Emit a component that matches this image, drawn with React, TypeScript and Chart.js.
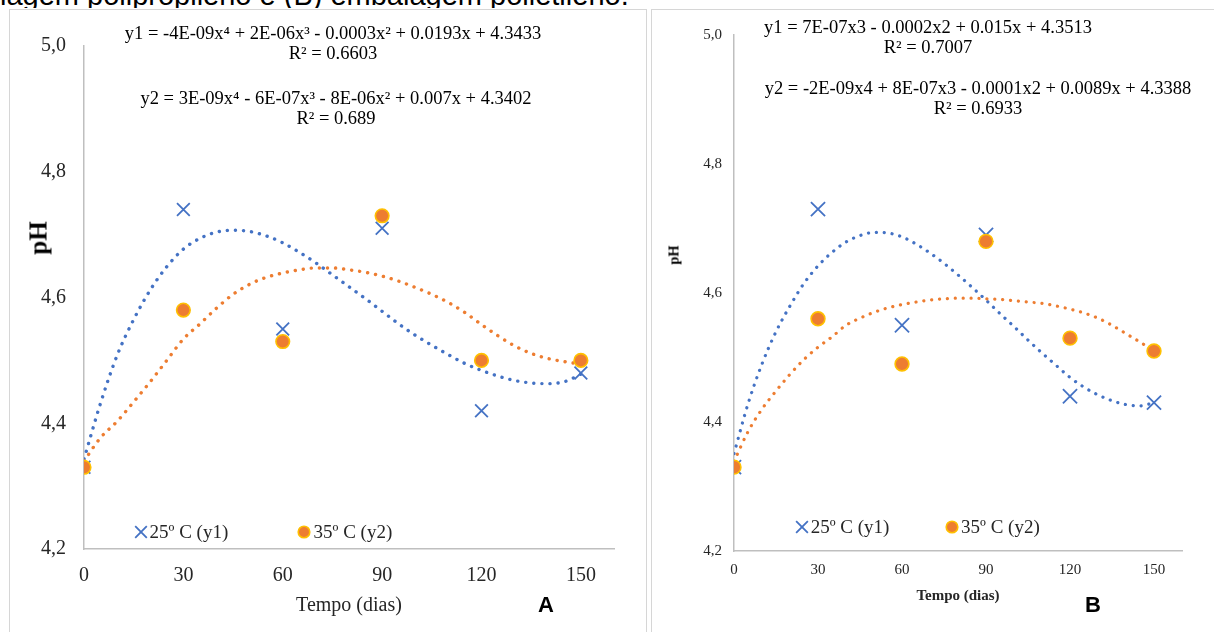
import React, { useEffect, useRef } from 'react';
import { Chart, registerables } from 'chart.js';
import { drawPoint } from 'chart.js/helpers';

Chart.register(...registerables);

// ---------- data ----------
const days = [0, 30, 60, 90, 120, 150];
const seriesLabels = ['25º C (y1)', '35º C (y2)'];

// Panel A (polipropileno)
const phA25 = [4.33, 4.74, 4.55, 4.71, 4.42, 4.48];
const phA35 = [4.33, 4.58, 4.53, 4.73, 4.5, 4.5];
// Panel B (polietileno)
const phB25 = [4.33, 4.73, 4.55, 4.69, 4.44, 4.43];
const phB35 = [4.33, 4.56, 4.49, 4.68, 4.53, 4.51];

// trendline curves, every 5 days
const trendDays = [0, 5, 10, 15, 20, 25, 30, 35, 40, 45, 50, 55, 60, 65, 70, 75, 80, 85, 90, 95, 100, 105, 110, 115, 120, 125, 130, 135, 140, 145, 150];
const trendA25 = [4.343, 4.432, 4.508, 4.565, 4.612, 4.649, 4.677, 4.694, 4.704, 4.707, 4.705, 4.698, 4.687, 4.672, 4.655, 4.636, 4.617, 4.598, 4.578, 4.558, 4.54, 4.524, 4.509, 4.495, 4.484, 4.475, 4.468, 4.464, 4.463, 4.466, 4.478];
const trendA35 = [4.34, 4.377, 4.403, 4.434, 4.466, 4.5, 4.534, 4.558, 4.583, 4.605, 4.621, 4.632, 4.639, 4.644, 4.647, 4.647, 4.644, 4.64, 4.634, 4.626, 4.616, 4.605, 4.592, 4.576, 4.557, 4.539, 4.523, 4.511, 4.503, 4.498, 4.494];
const trendB25 = [4.351, 4.428, 4.49, 4.54, 4.58, 4.615, 4.642, 4.663, 4.679, 4.689, 4.694, 4.693, 4.687, 4.676, 4.662, 4.646, 4.628, 4.609, 4.589, 4.568, 4.548, 4.527, 4.507, 4.488, 4.469, 4.454, 4.442, 4.433, 4.427, 4.425, 4.43];
const trendB35 = [4.339, 4.385, 4.42, 4.448, 4.474, 4.497, 4.516, 4.532, 4.55, 4.561, 4.57, 4.577, 4.582, 4.586, 4.589, 4.591, 4.592, 4.592, 4.591, 4.59, 4.588, 4.586, 4.584, 4.58, 4.575, 4.569, 4.561, 4.55, 4.537, 4.524, 4.51];

const xTicks = [0, 30, 60, 90, 120, 150];
const yTicks = [4.2, 4.4, 4.6, 4.8, 5.0];

// ---------- styles ----------
const SERIF = "'Liberation Serif', 'Times New Roman', serif";
const SANS = "'Liberation Sans', Arial, sans-serif";
const BLUE = '#4472C4';
const ORANGE = '#ED7D31';
const GOLD = '#FFC000';
const AXIS = '#BFBFBF';
const TEXT = '#262626';

const insideLegend = {
  id: 'insideLegend',
  afterDatasetsDraw(chart: any, _args: any, opts: any) {
    if (!opts || !opts.items) return;
    const ctx = chart.ctx;
    const { left, bottom } = chart.chartArea;
    ctx.save();
    ctx.font = opts.font;
    ctx.textBaseline = 'middle';
    ctx.textAlign = 'left';
    opts.items.forEach((it: any) => {
      const ds = chart.data.datasets[it.dataset];
      const x = left + it.dx;
      const y = bottom - opts.dy;
      ctx.strokeStyle = ds.borderColor;
      ctx.fillStyle = ds.backgroundColor;
      ctx.lineWidth = ds.borderWidth;
      drawPoint(ctx, { pointStyle: ds.pointStyle, radius: it.radius, rotation: 0, borderWidth: ds.borderWidth } as any, x, y);
      ctx.fillStyle = opts.color;
      ctx.fillText(ds.label, x + it.gap, y + 1);
    });
    ctx.restore();
  },
};

function buildConfig(p: any): any {
  const pts = (xs: number[], ys: number[]) => xs.map((x, i) => ({ x, y: ys[i] }));
  const trend = (label: string, ys: number[], color: string) => ({
    label,
    data: pts(trendDays, ys),
    showLine: true,
    pointRadius: 0,
    pointHoverRadius: 0,
    borderColor: color,
    backgroundColor: color,
    borderWidth: p.trendW,
    borderDash: [0.1, p.trendGap],
    borderCapStyle: 'round',
    cubicInterpolationMode: 'monotone',
    fill: false,
  });
  return {
    type: 'scatter',
    data: {
      datasets: [
        {
          label: seriesLabels[1],
          data: pts(days, p.s35),
          pointStyle: 'circle',
          pointRadius: p.circleR,
          pointHoverRadius: p.circleR,
          backgroundColor: ORANGE,
          borderColor: GOLD,
          borderWidth: 1.6,
          showLine: false,
        },
        {
          label: seriesLabels[0],
          data: pts(days, p.s25),
          pointStyle: 'crossRot',
          pointRadius: p.crossR,
          pointHoverRadius: p.crossR,
          backgroundColor: BLUE,
          borderColor: BLUE,
          borderWidth: 1.8,
          showLine: false,
        },
        trend('trend 35', p.t35, ORANGE),
        trend('trend 25', p.t25, BLUE),
      ],
    },
    options: {
      responsive: false,
      animation: false,
      devicePixelRatio: 1,
      layout: { padding: p.padding },
      plugins: {
        legend: { display: false },
        tooltip: { enabled: false },
        insideLegend: {
          font: `${p.legendSize}px ${SERIF}`,
          color: TEXT,
          dy: p.legendDy,
          items: p.legendItems,
        },
      },
      scales: {
        x: {
          type: 'linear',
          min: 0,
          max: 160,
          afterBuildTicks: (s: any) => {
            s.ticks = xTicks.map((v) => ({ value: v }));
          },
          afterFit: (s: any) => {
            s.height = p.xHeight;
          },
          grid: { display: false, drawTicks: false },
          border: { display: true, color: AXIS, width: 1.5 },
          ticks: {
            padding: p.xPad,
            autoSkip: false,
            maxRotation: 0,
            color: TEXT,
            font: { family: SERIF, size: p.tickSize },
          },
          title: {
            display: true,
            text: 'Tempo (dias)',
            padding: 0,
            color: TEXT,
            font: { family: SERIF, size: p.titleSize, weight: p.titleBold ? 'bold' : 'normal' },
          },
        },
        y: {
          type: 'linear',
          min: 4.2,
          max: 5.0,
          afterBuildTicks: (s: any) => {
            s.ticks = yTicks.map((v) => ({ value: v }));
          },
          afterFit: (s: any) => {
            s.width = p.yWidth;
          },
          grid: { display: false, drawTicks: false },
          border: { display: true, color: AXIS, width: 1.5 },
          ticks: {
            padding: p.yPad,
            color: TEXT,
            font: { family: SERIF, size: p.tickSize },
            callback: (v: any) => Number(v).toFixed(1).replace('.', ','),
          },
        },
      },
    },
    plugins: [insideLegend],
  };
}

const abs = (s: React.CSSProperties): React.CSSProperties => ({ position: 'absolute', ...s });

export default function App() {
  const refA = useRef<HTMLCanvasElement>(null);
  const refB = useRef<HTMLCanvasElement>(null);

  useEffect(() => {
    const cA = new Chart(
      refA.current as HTMLCanvasElement,
      buildConfig({
        s25: phA25,
        s35: phA35,
        t25: trendA25,
        t35: trendA35,
        circleR: 6.8,
        crossR: 9,
        trendW: 3.4,
        trendGap: 8,
        padding: { left: 0, right: 36, top: 46, bottom: 14 },
        xHeight: 69,
        xPad: 14.5,
        yWidth: 84,
        yPad: 18,
        tickSize: 20,
        titleSize: 20,
        titleBold: false,
        legendSize: 19,
        legendDy: 17,
        legendItems: [
          { dataset: 1, dx: 57, radius: 8.2, gap: 8.5 },
          { dataset: 0, dx: 220, radius: 5.8, gap: 9.5 },
        ],
      })
    );
    const cB = new Chart(
      refB.current as HTMLCanvasElement,
      buildConfig({
        s25: phB25,
        s35: phB35,
        t25: trendB25,
        t35: trendB35,
        circleR: 6.9,
        crossR: 10,
        trendW: 3.2,
        trendGap: 7.8,
        padding: { left: 0, right: 32, top: 35, bottom: 27 },
        xHeight: 54,
        xPad: 10,
        yWidth: 83,
        yPad: 12,
        tickSize: 15,
        titleSize: 15,
        titleBold: true,
        legendSize: 19,
        legendDy: 24,
        legendItems: [
          { dataset: 1, dx: 68, radius: 8.3, gap: 8.7 },
          { dataset: 0, dx: 218, radius: 5.8, gap: 9 },
        ],
      })
    );
    return () => {
      cA.destroy();
      cB.destroy();
    };
  }, []);

  const eq: React.CSSProperties = {
    fontFamily: SERIF,
    fontSize: 18.5,
    lineHeight: '20px',
    color: '#000',
    whiteSpace: 'nowrap',
    textAlign: 'center',
    transform: 'translateX(-50%)',
  };

  return (
    <div style={abs({ left: 0, top: 0, width: 1214, height: 632, overflow: 'hidden', background: '#fff' })}>
      {/* caption fragment cut at the top */}
      <div style={abs({ left: 0, top: 0, width: 1214, height: 8, overflow: 'hidden' })}>
        <div style={abs({ left: 0, top: -19.5, fontFamily: SANS, fontSize: 29, lineHeight: '29px', color: '#000', whiteSpace: 'nowrap' })}>
          lagem polipropileno e (B) embalagem polietileno.
        </div>
      </div>

      {/* panel frames */}
      <div style={abs({ left: 9, top: 9, width: 636, height: 640, border: '1.5px solid #d6d6d6' })} />
      <div style={abs({ left: 651, top: 9, width: 600, height: 640, border: '1.5px solid #d6d6d6' })} />

      <canvas ref={refA} width={650} height={632} style={abs({ left: 0, top: 0, width: 650, height: 632 })} />
      <canvas ref={refB} width={563} height={632} style={abs({ left: 651, top: 0, width: 563, height: 632 })} />

      {/* Panel A text */}
      <div style={abs({ ...eq, left: 333, top: 22.5 })}>
        y1 = -4E-09x⁴ + 2E-06x³ - 0.0003x² + 0.0193x + 4.3433
        <br />
        R² = 0.6603
      </div>
      <div style={abs({ ...eq, left: 336, top: 88 })}>
        y2 = 3E-09x⁴ - 6E-07x³ - 8E-06x² + 0.007x + 4.3402
        <br />
        R² = 0.689
      </div>
      <div
        style={abs({
          left: 38,
          top: 238,
          transform: 'translate(-50%, -50%) rotate(-90deg)',
          fontFamily: SERIF,
          fontWeight: 'bold',
          fontSize: 25,
          lineHeight: '25px',
          color: '#000',
          whiteSpace: 'nowrap',
        })}
      >
        pH
      </div>
      <div style={abs({ left: 546, top: 605, transform: 'translate(-50%, -50%)', fontFamily: SANS, fontWeight: 'bold', fontSize: 22, lineHeight: '22px', color: '#000' })}>
        A
      </div>

      {/* Panel B text */}
      <div style={abs({ ...eq, left: 928, top: 17 })}>
        y1 = 7E-07x3 - 0.0002x2 + 0.015x + 4.3513
        <br />
        R² = 0.7007
      </div>
      <div style={abs({ ...eq, left: 978, top: 78 })}>
        y2 = -2E-09x4 + 8E-07x3 - 0.0001x2 + 0.0089x + 4.3388
        <br />
        R² = 0.6933
      </div>
      <div
        style={abs({
          left: 674,
          top: 255,
          transform: 'translate(-50%, -50%) rotate(-90deg)',
          fontFamily: SERIF,
          fontWeight: 'bold',
          fontSize: 14.5,
          lineHeight: '15px',
          color: '#000',
          whiteSpace: 'nowrap',
        })}
      >
        pH
      </div>
      <div style={abs({ left: 1093, top: 605, transform: 'translate(-50%, -50%)', fontFamily: SANS, fontWeight: 'bold', fontSize: 22, lineHeight: '22px', color: '#000' })}>
        B
      </div>
    </div>
  );
}
